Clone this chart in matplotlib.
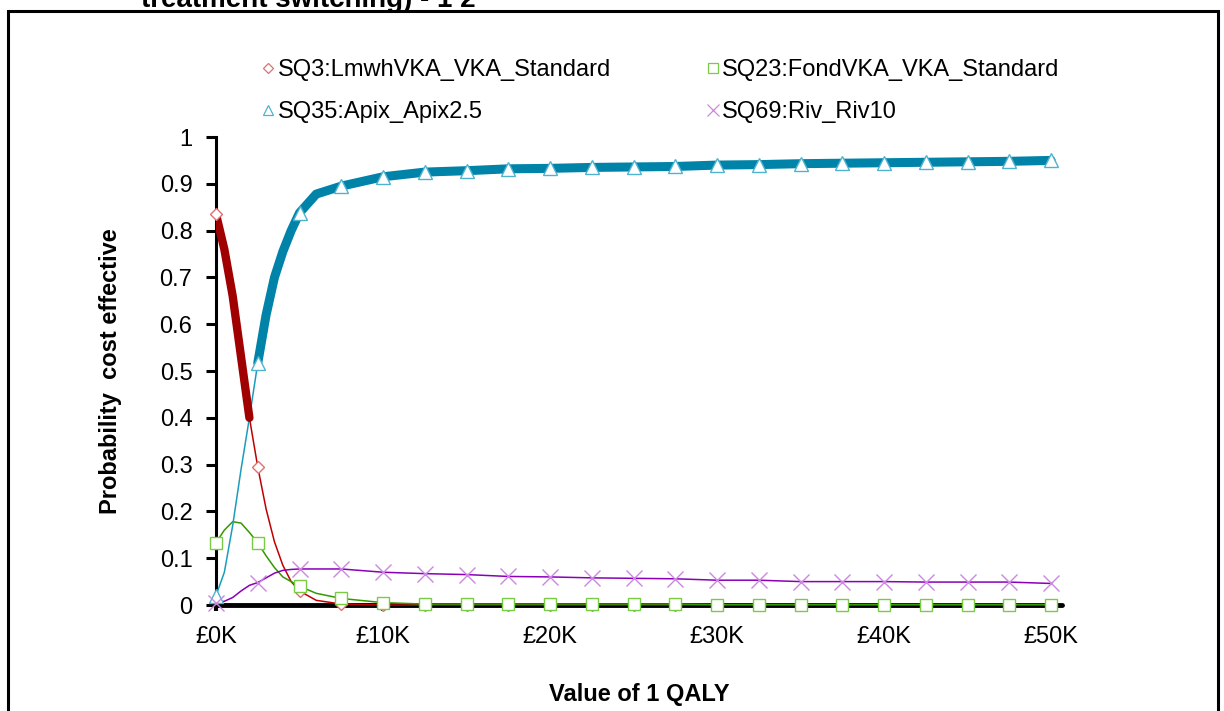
import matplotlib
matplotlib.use("Agg")
import matplotlib.pyplot as plt
from matplotlib.lines import Line2D
import numpy as np

plt.rcParams["font.family"] = ["Liberation Sans", "DejaVu Sans"]

# Value of 1 QALY (GBP)
WTP = [0, 500, 1000, 1500, 2000, 2500, 3000, 3500, 4000, 4500, 5000, 6000,
       7500, 10000, 12500, 15000, 17500, 20000, 22500, 25000, 27500, 30000,
       32500, 35000, 37500, 40000, 42500, 45000, 47500, 50000]

SQ3 = [0.835, 0.76, 0.66, 0.53, 0.40, 0.295, 0.205, 0.135, 0.085, 0.05, 0.03,
       0.01, 0.002, 0.0, 0.0, 0.0, 0.0, 0.0, 0.0, 0.0, 0.0, 0.0,
       0.0, 0.0, 0.0, 0.0, 0.0, 0.0, 0.0, 0.0]
SQ23 = [0.133, 0.16, 0.178, 0.175, 0.155, 0.133, 0.105, 0.08, 0.06, 0.05, 0.04,
        0.025, 0.014, 0.005, 0.002, 0.002, 0.002, 0.002, 0.002, 0.002, 0.002,
        0.001, 0.001, 0.001, 0.001, 0.001, 0.001, 0.001, 0.001, 0.001]
SQ35 = [0.02, 0.07, 0.17, 0.29, 0.40, 0.517, 0.62, 0.70, 0.755, 0.80, 0.838,
        0.878, 0.895, 0.915, 0.925, 0.928, 0.932, 0.933, 0.935, 0.936, 0.937,
        0.940, 0.941, 0.943, 0.944, 0.945, 0.946, 0.947, 0.948, 0.950]
SQ69 = [0.005, 0.008, 0.016, 0.03, 0.042, 0.048, 0.058, 0.068, 0.074, 0.076,
        0.077, 0.077, 0.077, 0.07, 0.067, 0.065, 0.061, 0.06, 0.058, 0.057,
        0.056, 0.053, 0.053, 0.05, 0.05, 0.05, 0.049, 0.049, 0.049, 0.046]

# frontier: SQ3 optimal up to 2K, SQ35 from 2.5K on
FRONTIER_SQ3_MAX = 2000
FRONTIER_SQ35_MIN = 2500

XTICKS = [0, 10000, 20000, 30000, 40000, 50000]
XTICK_LABELS = ["£0K", "£10K", "£20K", "£30K", "£40K", "£50K"]
YTICKS = [0, 0.1, 0.2, 0.3, 0.4, 0.5, 0.6, 0.7, 0.8, 0.9, 1]
YTICK_LABELS = ["0", "0.1", "0.2", "0.3", "0.4", "0.5", "0.6", "0.7", "0.8", "0.9", "1"]

SERIES = [
    ("SQ3:LmwhVKA_VKA_Standard", SQ3, "#c00000", "#e07070", "D", 6.5),
    ("SQ23:FondVKA_VKA_Standard", SQ23, "#339900", "#77cc44", "s", 9),
    ("SQ35:Apix_Apix2.5", SQ35, "#1a9cbf", "#4fb3d0", "^", 9.5),
    ("SQ69:Riv_Riv10", SQ69, "#8a00b8", "#cc88e0", "x", 11),
]

FS = 17

fig = plt.figure(figsize=(12.24, 7.11), dpi=100)
fig.patch.set_facecolor("white")

# outer chart border (bottom runs off the page)
fig.add_artist(plt.Rectangle((8 / 1224, -0.05), 1210 / 1224, 1.05 - 11.5 / 711,
                             transform=fig.transFigure, fill=False,
                             edgecolor="black", linewidth=2.2))
# clipped heading from the page above
fig.text(141 / 1224, 1 - 7 / 711, "treatment switching) - 1 2", fontsize=20,
         fontweight="bold", ha="left", va="baseline")

ax = fig.add_axes([216 / 1224, 1 - 605 / 711, 846 / 1224, 468 / 711])

x = np.array(WTP)
on_grid = [w % 2500 == 0 for w in WTP]

for i, (name, vals, lc, mc, mk, ms) in enumerate(SERIES):
    ax.plot(x, vals, color=lc, lw=1.1, zorder=3, clip_on=False)
    ax.plot(x[on_grid], np.array(vals)[on_grid], linestyle="none", marker=mk,
            markersize=ms, markerfacecolor="white" if mk != "x" else mc,
            markeredgecolor=mc, markeredgewidth=1.0, zorder=4 + i * 0.1,
            clip_on=False)

sq3 = np.array(SQ3)
sq35 = np.array(SQ35)
m3 = x <= FRONTIER_SQ3_MAX
m35 = x >= FRONTIER_SQ35_MIN
ax.plot(x[m3], sq3[m3], color="#a00000", lw=6, solid_capstyle="round", zorder=3.5)
ax.plot(x[m35], sq35[m35], color="#0083a8", lw=6.5, solid_capstyle="round", zorder=3.5)

ax.set_xlim(0, 50650)
ax.set_ylim(0, 1)
ax.set_xticks(XTICKS)
ax.set_xticklabels(XTICK_LABELS)
ax.set_yticks(YTICKS)
ax.set_yticklabels(YTICK_LABELS)
ax.tick_params(axis="y", direction="out", length=7, width=2.2, labelsize=FS, pad=10)
ax.tick_params(axis="x", direction="out", length=4, width=3, labelsize=FS, pad=11)
for side in ("top", "right"):
    ax.spines[side].set_visible(False)
ax.spines["left"].set_linewidth(2.2)
ax.spines["bottom"].set_linewidth(3.5)
ax.spines["bottom"].set_capstyle("round")
ax.spines["bottom"].set_zorder(2.8)

ax.set_ylabel("Probability  cost effective", fontsize=FS, fontweight="bold", labelpad=27)
ax.set_xlabel("Value of 1 QALY", fontsize=FS, fontweight="bold", labelpad=25)

handles = []
for name, vals, lc, mc, mk, ms in SERIES:
    handles.append(Line2D([0], [0], linestyle="none", marker=mk, markersize=ms * 0.75,
                          markerfacecolor="white" if mk != "x" else mc,
                          markeredgecolor=mc, markeredgewidth=0.9, label=name))
order = [0, 2, 1, 3]
fig.legend(handles=[handles[i] for i in order], loc="upper left",
           bbox_to_anchor=(240 / 1224, 1 - 38 / 711), ncol=2, frameon=False,
           fontsize=FS, handlelength=0.6, handletextpad=0.1,
           columnspacing=4.0, labelspacing=0.85)

fig.savefig("out.png", dpi=100, facecolor="white")
